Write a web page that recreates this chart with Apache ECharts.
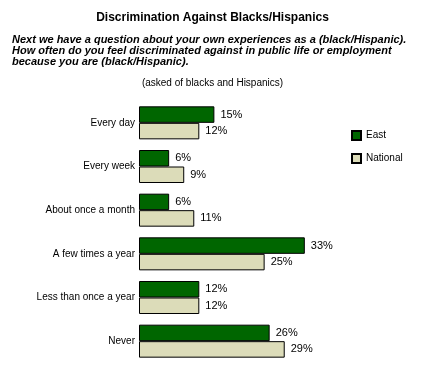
<!DOCTYPE html>
<html><head><meta charset="utf-8">
<script src="https://cdn.jsdelivr.net/npm/echarts@6/dist/echarts.min.js"></script>
<style>html,body{margin:0;padding:0;background:#fff}#c{width:425px;height:370px}</style>
</head><body><div id="c"></div>
<script>
var categories = ['Every day','Every week','About once a month','A few times a year','Less than once a year','Never'];
var east = [15, 6, 6, 33, 12, 26];
var national = [12, 9, 11, 25, 12, 29];
var seriesNames = ['East', 'National'];

var chart = echarts.init(document.getElementById('c'), null, {renderer:'canvas'});
var font = 'Liberation Sans, Arial, sans-serif';
var lbl = {show:true, position:'right', distance:6, formatter:'{c}%', color:'#000', fontFamily:font, fontSize:11};
chart.setOption({
  animation:false,
  title:[
    {text:'Discrimination Against Blacks/Hispanics', left:'center', top:12, padding:0, textStyle:{fontFamily:font, fontSize:12, fontWeight:'bold', color:'#000'}},
    {text:'Next we have a question about your own experiences as a (black/Hispanic).\nHow often do you feel discriminated against in public life or employment\nbecause you are (black/Hispanic).', left:12, top:34, padding:0, textStyle:{fontFamily:font, fontSize:11, fontWeight:'bold', fontStyle:'italic', color:'#000', lineHeight:11}},
    {text:'(asked of blacks and Hispanics)', left:'center', top:78, padding:0, textStyle:{fontFamily:font, fontSize:10, fontWeight:'normal', color:'#000'}}
  ],
  legend:{orient:'vertical', left:346, top:125, itemWidth:9, itemHeight:9, itemGap:12, data:seriesNames,
    textStyle:{fontFamily:font, fontSize:10, color:'#000'}, icon:'rect'},
  grid:{left:139, top:101, width:201, height:262, containLabel:false},
  xAxis:{type:'value', min:0, max:40, show:false},
  yAxis:{type:'category', inverse:true, data:categories, axisLine:{show:false}, axisTick:{show:false},
    axisLabel:{fontFamily:font, fontSize:10, color:'#000', margin:4}},
  series:[
    {name:seriesNames[0], type:'bar', data:east, barWidth:16.5, barGap:'0%', itemStyle:{color:'#006600', borderColor:'#000', borderWidth:1}, label:lbl},
    {name:seriesNames[1], type:'bar', data:national, barWidth:16.5, barGap:'0%', itemStyle:{color:'#dcdcb9', borderColor:'#000', borderWidth:1}, label:lbl}
  ]
});
</script></body></html>
